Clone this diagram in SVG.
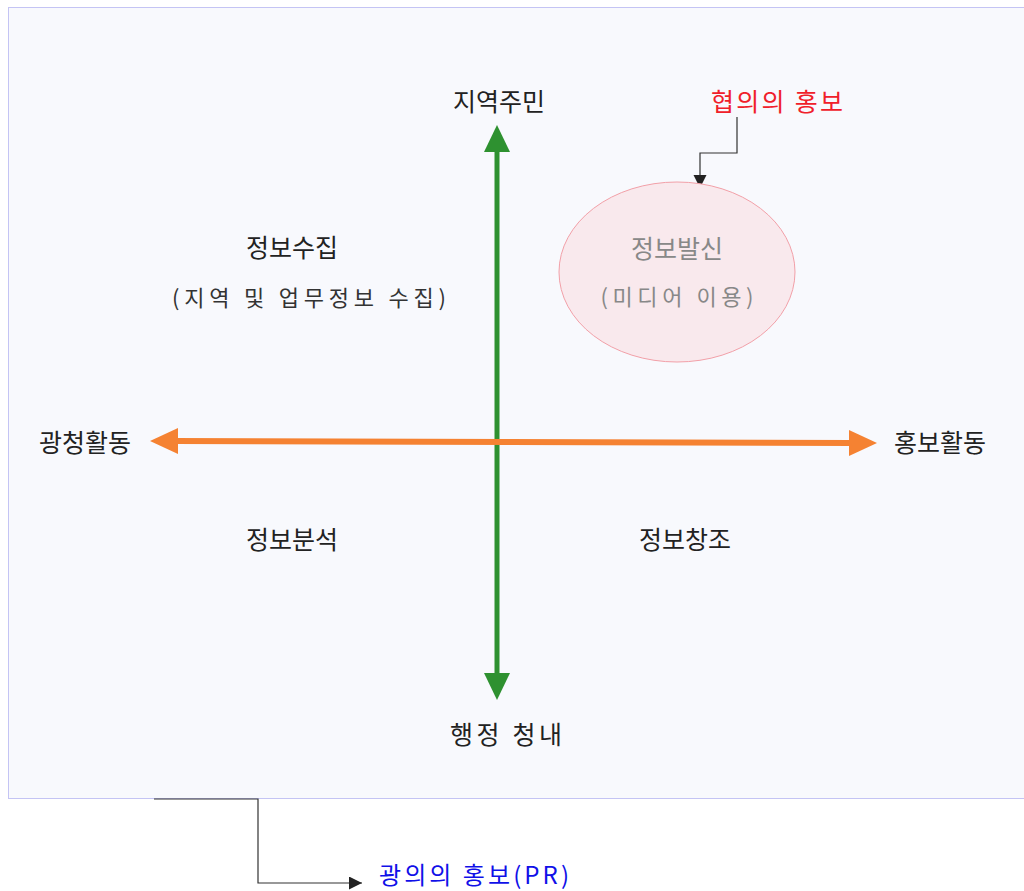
<svg xmlns="http://www.w3.org/2000/svg" width="1024" height="891" viewBox="0 0 1024 891">
<defs>
<style>
text{font-family:"Noto Sans CJK KR","Noto Sans",sans-serif;text-anchor:middle;dominant-baseline:central}
.lbl{font-size:25px;fill:#222}
.q{font-size:25px;fill:#222}
.sub{font-size:22px;fill:#333}
</style>
<marker id="ah" markerWidth="14" markerHeight="14" refX="13" refY="6.5" orient="auto" markerUnits="userSpaceOnUse"><path d="M0,0 L13,6.5 L0,13 Z" fill="#222"/></marker>
</defs>
<rect id="frame" x="8.5" y="7.5" width="1030" height="791" fill="#f8f9fd" stroke="#c4c4f4" stroke-width="1"/>
<g id="connectors">
<line x1="497" y1="150" x2="497" y2="675" stroke="#2e9130" stroke-width="5"/>
<polygon points="497,125 484,152 510,152" fill="#2e9130"/>
<polygon points="497,700 484,673 510,673" fill="#2e9130"/>
<line x1="175" y1="441" x2="852" y2="443" stroke="#f58232" stroke-width="6"/>
<polygon points="150,441 178,428 178,454" fill="#f58232"/>
<polygon points="877,443 849,430 849,456" fill="#f58232"/>
<polyline points="737,117 737,153 700,153 700,188" fill="none" stroke="#333" stroke-width="1.2" marker-end="url(#ah)"/>
<polyline points="154,799 258,799 258,883 362,883" fill="none" stroke="#333" stroke-width="1.2" marker-end="url(#ah)"/>
</g>
<g id="node-top"><text class="lbl" x="499" y="100">지역주민</text></g>
<g id="node-bottom"><text class="lbl" x="506" y="733" textLength="112" lengthAdjust="spacing">행정 청내</text></g>
<g id="node-left"><text class="lbl" x="85" y="441">광청활동</text></g>
<g id="node-right"><text class="lbl" x="940" y="441">홍보활동</text></g>
<g id="node-narrow"><text x="777" y="100" font-size="25" fill="#f0202a" textLength="132" lengthAdjust="spacing">협의의 홍보</text></g>
<g id="node-collect">
<text class="q" x="292" y="246">정보수집</text>
<text class="sub" x="309" y="296" textLength="274" lengthAdjust="spacing">(지역 및 업무정보 수집)</text>
</g>
<g id="node-send">
<ellipse cx="677" cy="272" rx="118" ry="90" fill="#f9e9ed" stroke="#f2a0a8" stroke-width="1"/>
<text x="677" y="247" font-size="25" fill="#888">정보발신</text>
<text x="677" y="295" font-size="22" fill="#888" textLength="153" lengthAdjust="spacing">(미디어 이용)</text>
</g>
<g id="node-analysis"><text class="q" x="292" y="538">정보분석</text></g>
<g id="node-create"><text class="q" x="685" y="538">정보창조</text></g>
<g id="node-broad"><text x="474" y="873" font-size="24" fill="#1010e8" textLength="190" lengthAdjust="spacing">광의의 홍보(PR)</text></g>
</svg>
